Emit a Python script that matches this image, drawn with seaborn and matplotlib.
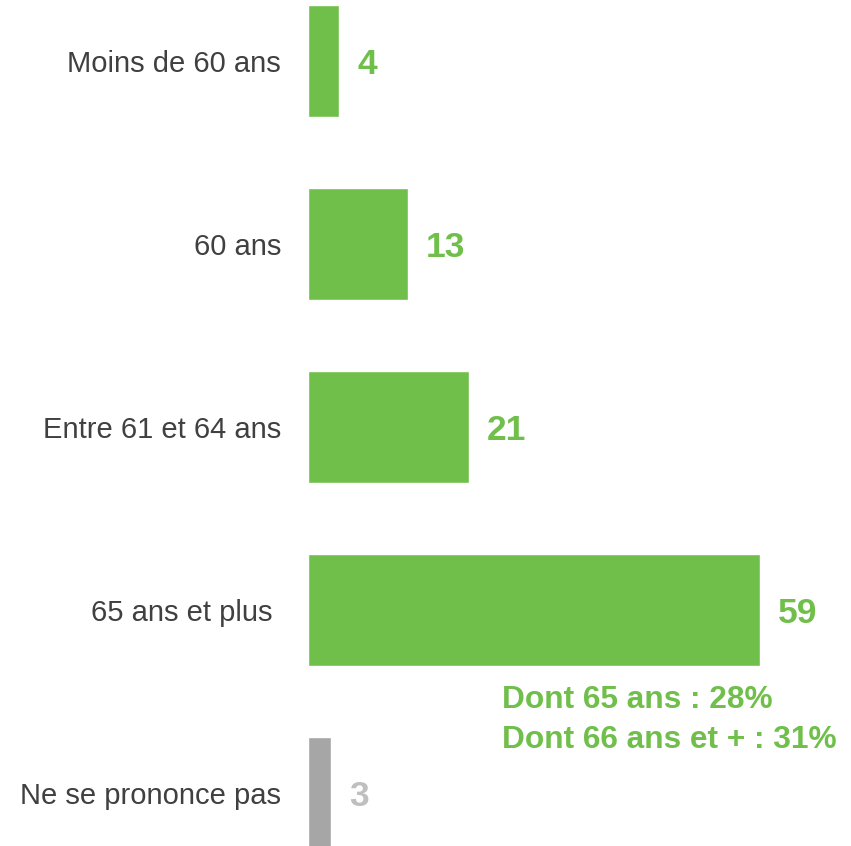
import matplotlib
matplotlib.use("Agg")
import matplotlib.pyplot as plt
import seaborn as sns
import pandas as pd

# Data
categories = ["Moins de 60 ans", "60 ans", "Entre 61 et 64 ans", "65 ans et plus ", "Ne se prononce pas"]
values = [4, 13, 21, 59, 3]
bar_colors = ["#70BF4B", "#70BF4B", "#70BF4B", "#70BF4B", "#A6A6A6"]
label_colors = ["#70BF4B", "#70BF4B", "#70BF4B", "#70BF4B", "#BFBFBF"]
note_lines = ["Dont 65 ans : 28%", "Dont 66 ans et + : 31%"]

sns.set_style("white")
plt.rcParams["font.family"] = ["Liberation Sans", "DejaVu Sans"]

df = pd.DataFrame({"cat": categories, "val": values})

fig = plt.figure(figsize=(8.51, 8.46), dpi=100)
ax = fig.add_axes([308 / 851, 0, 1 - 308 / 851, 1])

sns.barplot(data=df, x="val", y="cat", hue="cat", palette=bar_colors,
            orient="h", width=0.612, legend=False, ax=ax, saturation=1)

ax.set_xlim(0, 70.9)
ax.set_ylim(4.29, -0.333)
ax.set_xlabel("")
ax.set_ylabel("")
ax.set_xticks([])
ax.tick_params(axis="y", length=0, pad=19.5, labelsize=21, labelcolor="#404040")
for s in ax.spines.values():
    s.set_visible(False)

# value labels
for i, (v, c) in enumerate(zip(values, label_colors)):
    ax.text(v + 2.4, i + 0.018, str(v), ha="left", va="center", fontsize=25.5,
            fontweight="bold", color=c)

# breakdown note under the 65+ bar
ax.text(25.3, 3.6, "\n".join(note_lines), ha="left", va="center",
        fontsize=22.8, fontweight="bold", color="#70BF4B", linespacing=1.42)

fig.savefig("out.png", dpi=100)
